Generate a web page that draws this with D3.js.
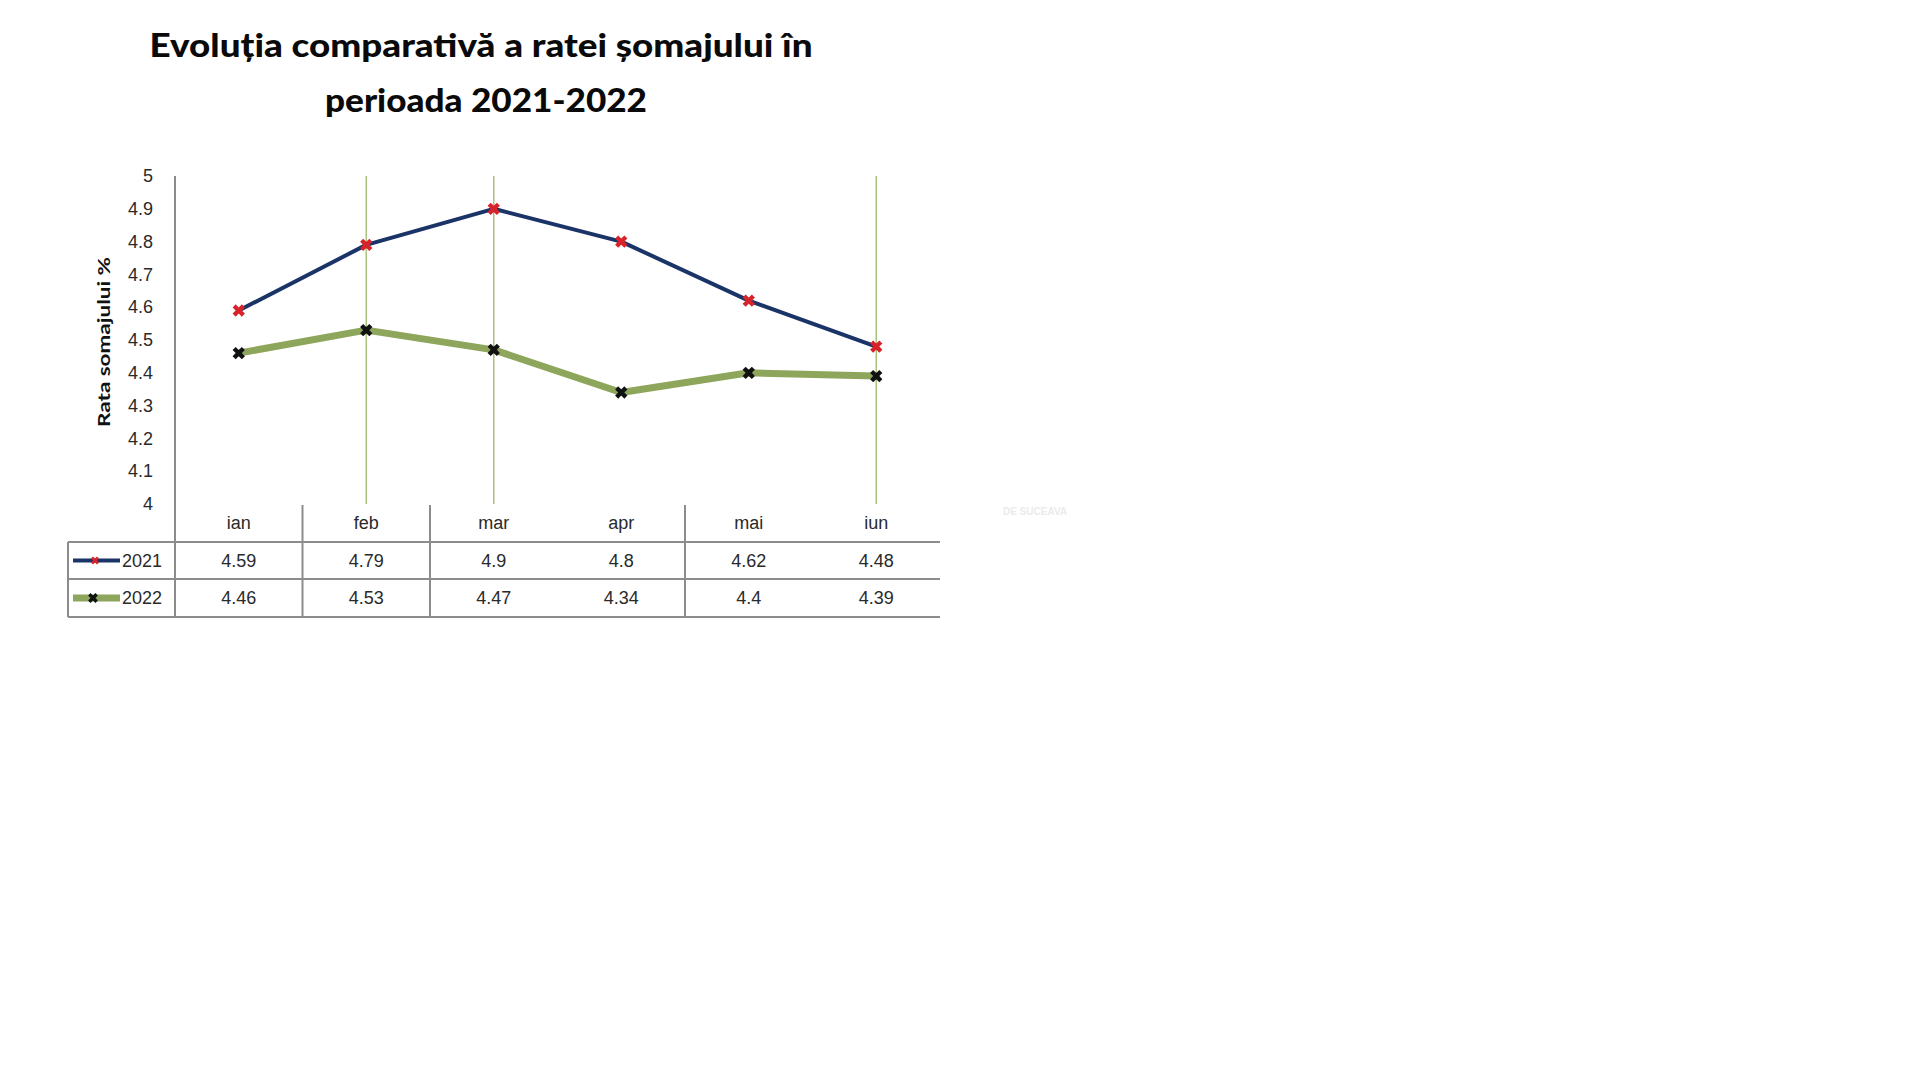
<!DOCTYPE html>
<html>
<head>
<meta charset="utf-8">
<script src="https://cdn.jsdelivr.net/npm/d3@7"></script>
<style>
  html, body { margin: 0; padding: 0; background: #fff; }
  svg { display: block; }
</style>
</head>
<body>
<svg id="chart" width="1920" height="1080"></svg>
<script>
// ---- data ----
const titleLines = ["Evoluția comparativă a ratei șomajului în", "perioada 2021-2022"];
const yAxisTitle = "Rata somajului %";
const categories = ["ian", "feb", "mar", "apr", "mai", "iun"];
const seriesNames = ["2021", "2022"];
const values2021 = [4.59, 4.79, 4.9, 4.8, 4.62, 4.48];
const values2022 = [4.46, 4.53, 4.47, 4.34, 4.4, 4.39];
const yTicks = [4, 4.1, 4.2, 4.3, 4.4, 4.5, 4.6, 4.7, 4.8, 4.9, 5];
const gridCategories = ["feb", "mar", "iun"];      // vertical gridlines visible in the reference
const dividerCategories = ["feb", "mar", "mai"];    // table column dividers visible (left edge of these bands)
const watermark = "DE SUCEAVA";

// ---- styles ----
const C = {
  navy: "#1b3467",
  red: "#d9232b",
  green: "#8ea65c",
  grid: "#a9c27e",
  axis: "#8c8c8c",
  text: "#2a2a2a"
};
const labelFont = "'Liberation Sans', Arial, sans-serif";

const svg = d3.select("#chart");

// scales
const x = d3.scaleBand().domain(categories).range([175, 940]).paddingInner(0).paddingOuter(0);
const y = d3.scaleLinear().domain([4, 5]).range([504, 176]);
const cx = c => x(c) + x.bandwidth() / 2;

// table geometry
const tableLeft = 68, tableRight = 940;
const rowTops = [542, 579, 617];

// ---- title ----
const title = svg.append("g");
title.append("text")
  .attr("x", 481).attr("y", 57)
  .attr("text-anchor", "middle")
  .attr("font-family", "Lato, 'Open Sans', sans-serif")
  .attr("font-weight", 900).attr("font-size", 33)
  .attr("fill", "#0a0a0a")
  .attr("textLength", 663).attr("lengthAdjust", "spacingAndGlyphs")
  .text(titleLines[0]);
title.append("text")
  .attr("x", 486).attr("y", 112)
  .attr("text-anchor", "middle")
  .attr("font-family", "Lato, 'Open Sans', sans-serif")
  .attr("font-weight", 900).attr("font-size", 33)
  .attr("fill", "#0a0a0a")
  .attr("textLength", 322).attr("lengthAdjust", "spacingAndGlyphs")
  .text(titleLines[1]);

// ---- vertical gridlines ----
svg.append("g").selectAll("line")
  .data(gridCategories).join("line")
  .attr("x1", d => cx(d)).attr("x2", d => cx(d))
  .attr("y1", y(5)).attr("y2", y(4))
  .attr("stroke", C.grid).attr("stroke-width", 1.5);

// ---- y axis ----
const yAxis = d3.axisLeft(y).tickValues(yTicks).tickSize(0).tickPadding(22)
  .tickFormat(d => d3.format("")(+d.toFixed(1)));
const yg = svg.append("g").attr("transform", `translate(${x.range()[0]},0)`).call(yAxis);
yg.select(".domain").remove();
yg.selectAll("text")
  .attr("font-family", labelFont).attr("font-size", 18).attr("fill", C.text);

// y axis line extends through table
svg.append("line")
  .attr("x1", 175).attr("x2", 175)
  .attr("y1", y(5)).attr("y2", rowTops[2])
  .attr("stroke", C.axis).attr("stroke-width", 2);

// y axis title
svg.append("text")
  .attr("transform", `translate(110,342) rotate(-90)`)
  .attr("text-anchor", "middle")
  .attr("font-family", "Lato, 'Open Sans', sans-serif")
  .attr("font-weight", 700).attr("font-size", 17)
  .attr("fill", "#111")
  .attr("textLength", 170).attr("lengthAdjust", "spacingAndGlyphs")
  .text(yAxisTitle);

// ---- category labels (x axis) ----
const xAxis = d3.axisBottom(x).tickSize(0).tickPadding(12);
const xg = svg.append("g").attr("transform", `translate(0,${y(4)})`).call(xAxis);
xg.select(".domain").remove();
xg.selectAll("text")
  .attr("font-family", labelFont).attr("font-size", 18).attr("fill", C.text);

// ---- data table ----
const table = svg.append("g");
rowTops.forEach(t => {
  table.append("line")
    .attr("x1", tableLeft).attr("x2", tableRight)
    .attr("y1", t).attr("y2", t)
    .attr("stroke", C.axis).attr("stroke-width", 2);
});
table.append("line")
  .attr("x1", tableLeft).attr("x2", tableLeft)
  .attr("y1", rowTops[0]).attr("y2", rowTops[2])
  .attr("stroke", C.axis).attr("stroke-width", 2);
table.selectAll("line.div")
  .data(dividerCategories).join("line").attr("class", "div")
  .attr("x1", d => x(d)).attr("x2", d => x(d))
  .attr("y1", y(4) + 1).attr("y2", rowTops[2])
  .attr("stroke", C.axis).attr("stroke-width", 2);

const series = [
  { name: seriesNames[0], values: values2021, line: C.navy, width: 4, marker: C.red },
  { name: seriesNames[1], values: values2022, line: C.green, width: 7, marker: "#111" }
];

const markerPath = d3.symbol().type(d3.symbolCross).size(95);

series.forEach((s, i) => {
  const rowMid = (rowTops[i] + rowTops[i + 1]) / 2;
  // legend key
  table.append("line")
    .attr("x1", 73).attr("x2", 120).attr("y1", rowMid).attr("y2", rowMid)
    .attr("stroke", s.line).attr("stroke-width", i === 0 ? 4 : 7);
  table.append("path")
    .attr("d", d3.symbol().type(d3.symbolCross).size(i === 0 ? 40 : 60)())
    .attr("transform", `translate(${i === 0 ? 95 : 93},${rowMid}) rotate(45)`)
    .attr("fill", s.marker);
  table.append("text")
    .attr("x", 122).attr("y", rowMid).attr("dy", "0.36em")
    .attr("font-family", labelFont).attr("font-size", 18).attr("fill", C.text)
    .text(s.name);
  // values
  table.selectAll(null)
    .data(s.values).join("text")
    .attr("x", (d, j) => cx(categories[j])).attr("y", rowMid).attr("dy", "0.36em")
    .attr("text-anchor", "middle")
    .attr("font-family", labelFont).attr("font-size", 18).attr("fill", C.text)
    .text(d => d);
});

// ---- lines & markers ----
const lineGen = d3.line().x((d, j) => cx(categories[j])).y(d => y(d));
[...series].reverse().forEach(s => {
  svg.append("path")
    .datum(s.values)
    .attr("d", lineGen)
    .attr("fill", "none")
    .attr("stroke", s.line)
    .attr("stroke-width", s.width)
    .attr("stroke-linejoin", "round");
});
series.forEach(s => {
  svg.append("g").selectAll("path")
    .data(s.values).join("path")
    .attr("d", markerPath())
    .attr("transform", (d, j) => `translate(${cx(categories[j])},${y(d)}) rotate(45)`)
    .attr("fill", s.marker);
});

// ---- faint watermark ----
svg.append("text")
  .attr("x", 1035).attr("y", 511).attr("dy", "0.35em")
  .attr("text-anchor", "middle")
  .attr("font-family", labelFont).attr("font-weight", 700).attr("font-size", 10)
  .attr("fill", "#ebebeb")
  .text(watermark);
</script>
</body>
</html>
